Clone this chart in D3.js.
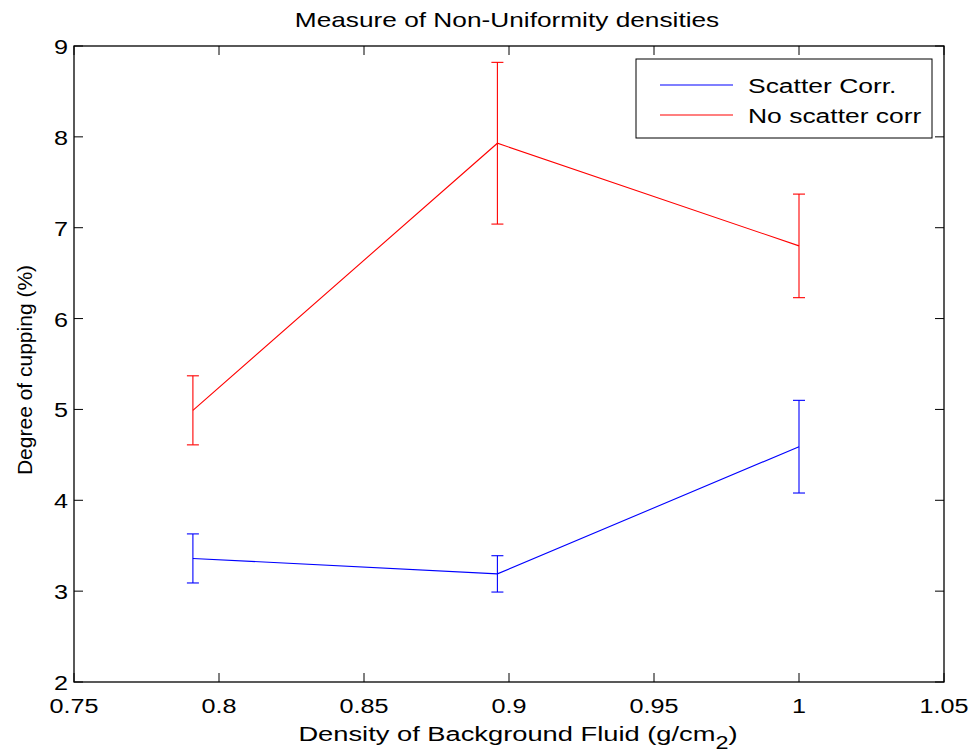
<!DOCTYPE html>
<html><head><meta charset="utf-8">
<script src="https://cdn.jsdelivr.net/npm/d3@7"></script>
<style>body{margin:0;background:#fff}svg{display:block}text{font-family:"Liberation Sans",Arial,sans-serif;fill:#000}</style>
</head><body><svg id="c" width="977" height="756"></svg>
<script>
const xValues = [0.791, 0.896, 1.0];
const scatterCorr = [3.36, 3.19, 4.59];
const scatterCorrErr = [0.27, 0.20, 0.51];
const noScatterCorr = [4.99, 7.93, 6.80];
const noScatterCorrErr = [0.38, 0.89, 0.57];
const xTicks = [0.75, 0.8, 0.85, 0.9, 0.95, 1, 1.05];
const yTicks = [2, 3, 4, 5, 6, 7, 8, 9];
const seriesNames = ["Scatter Corr.", "No scatter corr"];
const colors = ["#0000ff", "#ff0000"];

const svg = d3.select("#c");
const L = 74, R = 944, T = 46, B = 682;
const x = d3.scaleLinear().domain([0.75, 1.05]).range([L, R]);
const y = d3.scaleLinear().domain([2, 9]).range([B, T]);

// horizontally stretched text helper (reference glyphs are wide)
function htext(px, py, str, size, anchor, sx) {
  const g = svg.append("g").attr("transform", `translate(${px},${py}) scale(${sx},1)`);
  const t = g.append("text").attr("x", 0).attr("y", 0).attr("font-size", size).attr("text-anchor", anchor);
  if (str !== null) t.text(str);
  return t;
}

svg.append("rect").attr("x", L).attr("y", T).attr("width", R - L).attr("height", B - T)
  .attr("fill", "#fff").attr("stroke", "#000").attr("stroke-width", 1.3);

const tk = 9;
const g = svg.append("g").attr("stroke", "#000").attr("stroke-width", 1);
xTicks.forEach(v => {
  g.append("line").attr("x1", x(v)).attr("x2", x(v)).attr("y1", B).attr("y2", B - tk);
  g.append("line").attr("x1", x(v)).attr("x2", x(v)).attr("y1", T).attr("y2", T + tk);
});
yTicks.forEach(v => {
  g.append("line").attr("x1", L).attr("x2", L + tk).attr("y1", y(v)).attr("y2", y(v));
  g.append("line").attr("x1", R).attr("x2", R - tk).attr("y1", y(v)).attr("y2", y(v));
});
xTicks.forEach(v => htext(x(v), 713, d3.format("")(v), 21, "middle", 1.2));
yTicks.forEach(v => htext(L - 6, y(v) + 8, String(v), 21, "end", 1.2));

const series = [
  {vals: scatterCorr, err: scatterCorrErr, c: colors[0]},
  {vals: noScatterCorr, err: noScatterCorrErr, c: colors[1]}
];
const line = d3.line().x((d, i) => x(xValues[i])).y(d => y(d));
series.forEach(s => {
  svg.append("path").datum(s.vals).attr("d", line).attr("fill", "none")
    .attr("stroke", s.c).attr("stroke-width", 1.1);
  s.vals.forEach((v, i) => {
    const xc = x(xValues[i]);
    const eg = svg.append("g").attr("stroke", s.c).attr("stroke-width", 1.1);
    eg.append("line").attr("x1", xc).attr("x2", xc).attr("y1", y(v - s.err[i])).attr("y2", y(v + s.err[i]));
    eg.append("line").attr("x1", xc - 6).attr("x2", xc + 6).attr("y1", y(v - s.err[i])).attr("y2", y(v - s.err[i]));
    eg.append("line").attr("x1", xc - 6).attr("x2", xc + 6).attr("y1", y(v + s.err[i])).attr("y2", y(v + s.err[i]));
  });
});

// legend
svg.append("rect").attr("x", 636).attr("y", 59).attr("width", 296).attr("height", 79)
  .attr("fill", "#fff").attr("stroke", "#000").attr("stroke-width", 1);
seriesNames.forEach((n, i) => {
  const ly = 85 + i * 30;
  svg.append("line").attr("x1", 660).attr("x2", 733).attr("y1", ly).attr("y2", ly)
    .attr("stroke", colors[i]).attr("stroke-width", 1.1);
  htext(748, ly + 7.5, n, 21, "start", 1.26);
});

htext(507, 27, "Measure of Non-Uniformity densities", 21, "middle", 1.25);
const xl = htext(518, 741, null, 21, "middle", 1.3);
xl.append("tspan").text("Density of Background Fluid (g/cm");
xl.append("tspan").attr("dy", 8).attr("font-size", 18).text("2");
xl.append("tspan").attr("dy", -8).text(")");
svg.append("text").attr("transform", `translate(32,${370}) rotate(-90)`)
  .attr("text-anchor", "middle").attr("font-size", 21).text("Degree of cupping (%)");
</script></body></html>
